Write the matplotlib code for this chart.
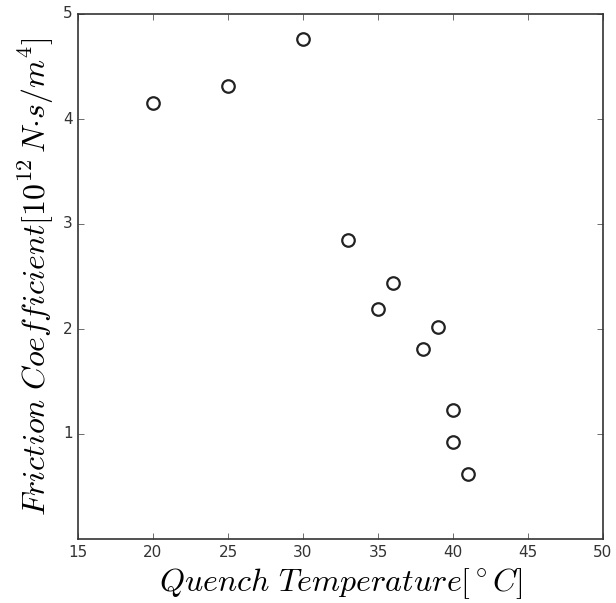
import matplotlib
matplotlib.use('Agg')
import matplotlib.pyplot as plt

# Quench temperature (C) vs friction coefficient (1e12 N s/m^4)
temperature = [20, 25, 30, 33, 35, 36, 38, 39, 40, 40, 41]
friction = [4.15, 4.31, 4.76, 2.85, 2.19, 2.44, 1.81, 2.02, 1.23, 0.92, 0.62]

x_ticks = [15, 20, 25, 30, 35, 40, 45, 50]
y_ticks = [1, 2, 3, 4, 5]

plt.style.use('classic')
plt.rcParams['mathtext.fontset'] = 'cm'

fig = plt.figure(figsize=(6.16, 6.03), dpi=100)
fig.patch.set_facecolor('white')
ax = fig.add_axes([78/616, 64/603, 525/616, 525/603])

ax.plot(temperature, friction, linestyle='none', marker='o', markersize=9,
        markerfacecolor='none', markeredgecolor='#222222', markeredgewidth=1.6)

ax.set_xlim(15, 50)
ax.set_ylim(0, 5)
ax.set_xticks(x_ticks)
ax.set_yticks(y_ticks)
ax.tick_params(labelsize=11, colors='#333333')
for s in ax.spines.values():
    s.set_color('#333333')
    s.set_linewidth(1.2)

ax.set_xlabel(r'$Quench\ Temperature[^\circ C]$', fontsize=23)
ax.set_ylabel(r'$Friction\ Coefficient[10^{12}\,N{\cdot}s/m^4]$', fontsize=23)

fig.savefig('out.png', dpi=100, facecolor='white')
